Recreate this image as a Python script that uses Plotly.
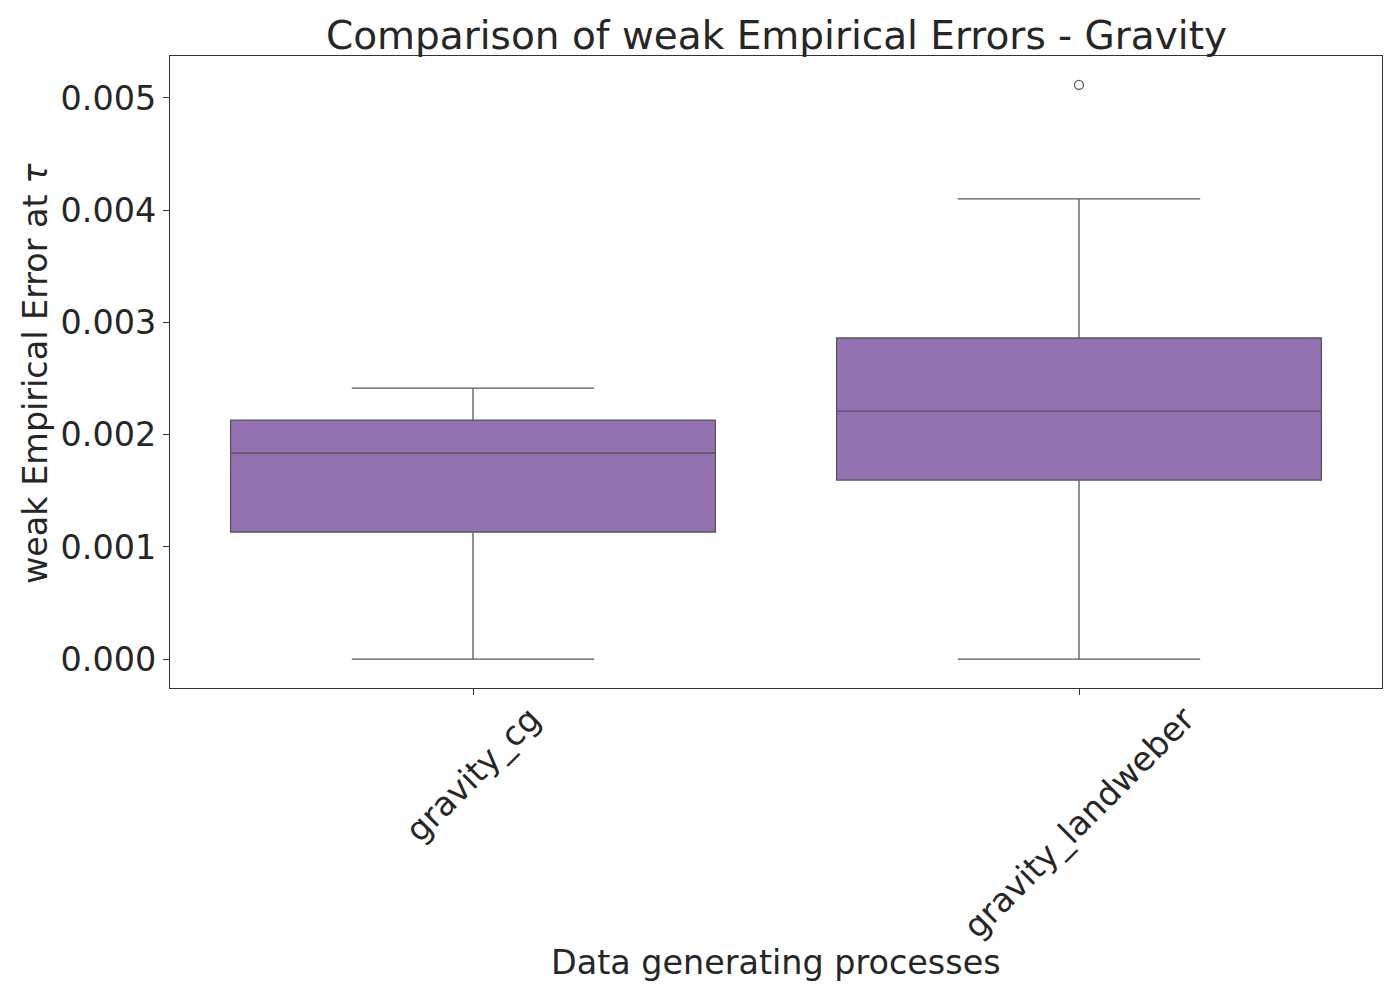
import plotly.graph_objects as go

categories = ["gravity_cg", "gravity_landweber"]
lower_whisker = [0.0, 0.0]
q1_vals = [0.001132, 0.001595]
median_vals = [0.001836, 0.002210]
q3_vals = [0.002130, 0.002861]
upper_whisker = [0.002415, 0.004100]
outlier_cat = ["gravity_landweber"]
outlier_vals = [0.005116]
ytick_vals = [0.0, 0.001, 0.002, 0.003, 0.004, 0.005]

FILL = "#9372b2"
LINE = "#575757"
AX = "#333333"
TXT = "#262626"
FONT = "DejaVu Sans"
FS = 33.4

fig = go.Figure()
fig.add_trace(go.Box(
    x=categories, q1=q1_vals, median=median_vals, q3=q3_vals,
    lowerfence=lower_whisker, upperfence=upper_whisker,
    fillcolor=FILL, line=dict(color=LINE, width=1.3),
    width=0.8, whiskerwidth=0.5, boxpoints=False, showlegend=False,
))
fig.add_trace(go.Scatter(
    x=outlier_cat, y=outlier_vals, mode="markers",
    marker=dict(symbol="circle-open", size=9, color=LINE, line=dict(width=1.3, color=LINE)),
    showlegend=False,
))

W, H = 1400, 1000
L, R, T, B = 170, 18, 56, 312
pw, ph = W - L - R, H - T - B

def py(p):
    return (H - B - p) / ph

def px(p):
    return (p - L) / pw

fig.update_layout(
    width=W, height=H,
    margin=dict(l=L, r=R, t=T, b=B),
    plot_bgcolor="white", paper_bgcolor="white",
    boxgap=0.2, boxgroupgap=0,
    font=dict(family=FONT, size=FS, color=TXT),
    xaxis=dict(
        type="category", range=[-0.5, 1.5], showticklabels=False,
        ticks="outside", ticklen=6, tickwidth=1.3, tickcolor=AX,
        showline=True, linecolor=AX, linewidth=1.3, mirror=True,
        showgrid=False, zeroline=False,
    ),
    yaxis=dict(
        range=[-0.000258, 0.005374], tickvals=ytick_vals, tickformat=".3f",
        ticks="outside", ticklen=6, tickwidth=1.3, tickcolor=AX,
        tickfont=dict(size=FS, color=TXT, family=FONT),
        showline=True, linecolor=AX, linewidth=1.3, mirror=True,
        showgrid=False, zeroline=False,
    ),
)

annotations = []
for c in categories:
    annotations.append(dict(
        x=c, xref="x", y=py(696), yref="paper", text=c, showarrow=False,
        textangle=-45, xanchor="center", yanchor="top",
        font=dict(size=FS, color=TXT, family=FONT),
    ))
annotations.append(dict(
    x=0.5, xref="paper", y=py(963), yref="paper", text="Data generating processes",
    showarrow=False, xanchor="center", yanchor="middle",
    font=dict(size=FS, color=TXT, family=FONT),
))
annotations.append(dict(
    x=px(35), xref="paper", y=py(374), yref="paper", text="weak Empirical Error at <i>τ</i>",
    showarrow=False, textangle=-90, xanchor="center", yanchor="middle",
    font=dict(size=FS, color=TXT, family=FONT),
))
annotations.append(dict(
    x=0.5, xref="paper", y=py(35), yref="paper",
    text="Comparison of weak Empirical Errors - Gravity",
    showarrow=False, xanchor="center", yanchor="middle",
    font=dict(size=39, color=TXT, family=FONT),
))
fig.update_layout(annotations=annotations)

fig.write_html("out.html")
